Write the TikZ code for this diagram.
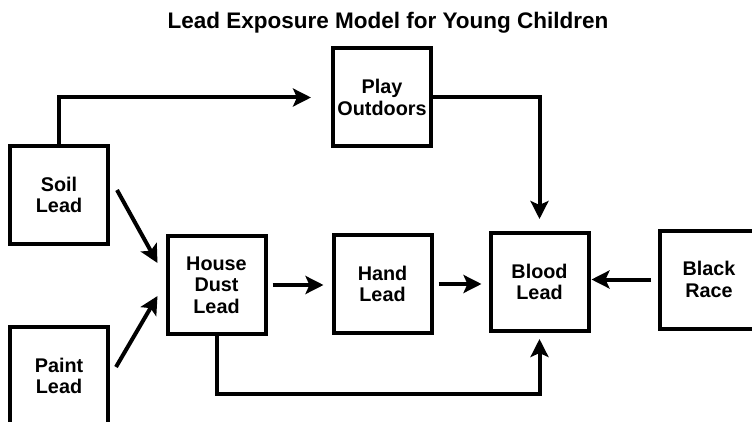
\documentclass[tikz,border=0pt]{standalone}
\usepackage{fontspec}
\setmainfont{Liberation Sans}
\usepackage{tikz}
\usetikzlibrary{arrows.meta,positioning}

\tikzset{
  varbox/.style={draw, line width=4pt, minimum width=98pt, minimum height=98pt,
    inner sep=0pt, align=center, font=\bfseries\fontsize{19.8}{21.5}\selectfont},
  link/.style={line width=4pt, -{Stealth[length=18pt,width=18pt,inset=4pt]}}
}

\begin{document}
\begin{tikzpicture}[x=1pt, y=-1pt]
  \useasboundingbox (0,0) rectangle (752,422);
  \node[font=\bfseries\fontsize{22.5}{26}\selectfont] (title) at (388,23) {Lead Exposure Model for Young Children};

  \node[varbox] (Soil) at (59,195) {Soil\\Lead};
  \node[varbox] (Paint) at (59,376) {Paint\\Lead};
  \node[varbox] (House) at (216.5,285) {House\\Dust\\Lead};
  \node[varbox] (Hand) at (382.5,284) {Hand\\Lead};
  \node[varbox] (Blood) at (539.5,282) {Blood\\Lead};
  \node[varbox] (Play) at (382,97.5) {Play\\Outdoors};
  \node[varbox] (Black) at (709,279.5) {Black\\Race};

  % soil to play, play to blood
  \draw[link, shorten >=20pt] (Soil.north) |- (Play.west);
  \draw[link, shorten >=12pt] (Play.east) -| (Blood.north);
  % into house dust
  \draw[link] ([shift={(7,-5)}]Soil.east) -- ([shift={(-8,-22)}]House.west);
  \draw[link] ([shift={(6,-9)}]Paint.east) -- ([shift={(-8,11)}]House.west);
  % along the middle row
  \draw[link, shorten <=5pt, shorten >=8pt] (House.east) -- (House.east -| Hand.west);
  \draw[link, shorten <=5pt, shorten >=7pt] (Hand.east) -- (Hand.east -| Blood.west);
  \draw[link, shorten <=7pt, shorten >=1pt] (Black.west) -- (Black.west -| Blood.east);
  % house dust straight to blood
  \draw[link, shorten >=6pt] (House.south) -- ++(0,58) -| (Blood.south);
\end{tikzpicture}
\end{document}
